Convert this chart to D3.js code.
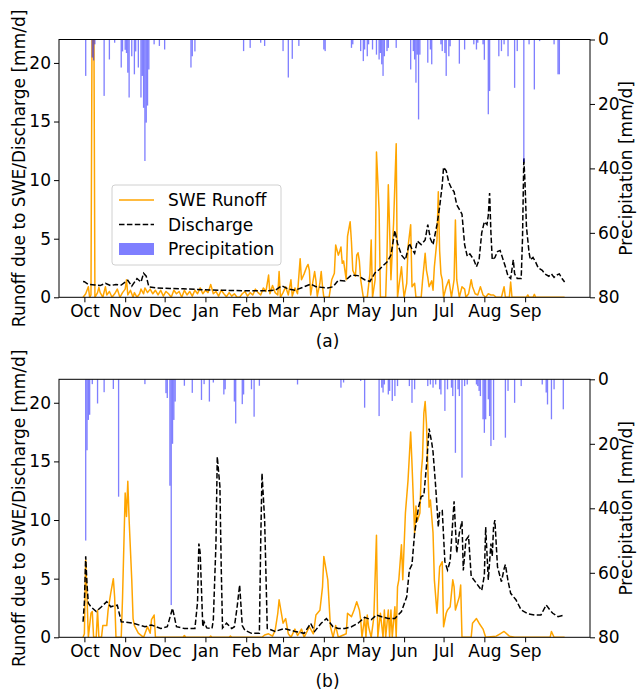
<!DOCTYPE html>
<html>
<head>
<meta charset="utf-8">
<script src="https://cdn.jsdelivr.net/npm/d3@7"></script>
<style>
  body { margin: 0; background: #fff; }
  text { font-family: "DejaVu Sans", sans-serif; }
</style>
</head>
<body>
<div id="chart-area"></div>
<script>
// x is the day of the water year, 0 = 1 Oct
var monthStarts = [0, 31, 61, 92, 123, 151, 182, 212, 243, 273, 304, 335];
var monthNames = ["Oct", "Nov", "Dec", "Jan", "Feb", "Mar", "Apr", "May", "Jun", "Jul", "Aug", "Sep"];
var runoffTicks = [0, 5, 10, 15, 20];
var precipTicks = [0, 20, 40, 60, 80];

// panel (a) : [day, mm/d]
var sweA = [[-1,0],[1,0.3],[3,0.9],[4,0],[5,0.2],[6,28],[7,30],[8,0],[10,0.4],[11,0.85],[12,0.4],[13,0.2],[14,0],[16,0.9],[17,0.2],[19,0.5],[21,0],[23,0.3],[25,0.7],[27,0],[29,0.4],[31,0.7],[32,1.5],[33,0.2],[35,0.6],[37,0],[38,0.4],[40,0],[42,0.3],[43,0.7],[45,0.3],[46,0.8],[48,0.4],[50,0.7],[52,0.3],[54,0.6],[56,0.2],[58,0.6],[60,0.1],[62,0.5],[64,0.3],[66,0],[68,0.6],[70,0.3],[72,0.5],[74,0],[76,0.6],[78,0.2],[80,0.5],[82,0.1],[84,0.6],[86,0.3],[88,0.8],[90,0.3],[92,0.6],[94,0.4],[96,1.1],[98,0.3],[100,0.5],[102,0.1],[104,0.6],[106,0.3],[108,0.05],[110,0.4],[112,0.1],[114,0.3],[116,0],[118,0],[120,0.3],[122,0.5],[124,0.1],[126,0.4],[128,0.2],[130,0.7],[132,0.4],[134,0.2],[136,0.8],[138,0.5],[140,1.9],[141,0.3],[143,1.0],[145,0.4],[147,0.2],[148,2.2],[149,0],[151,0.4],[153,0.9],[155,0.2],[157,1.5],[158,0.1],[160,0.8],[162,0.3],[164,3.3],[165,1.5],[167,2.0],[169,2.6],[170,2.8],[171,2.3],[172,0.2],[173,0.9],[175,2.2],[176,1.4],[177,0.1],[179,1.2],[180,2.2],[181,0.9],[182,0],[186,0],[188,1.5],[190,2.05],[191,4.46],[193,3.6],[194,3.9],[195,4.3],[196,2.9],[197,3.1],[199,1.5],[200,5.2],[202,6.45],[203,4.7],[204,2.3],[206,1.8],[207,3.6],[208,3.8],[209,3.1],[210,1.5],[212,0],[215,0],[217,2.0],[218,4.9],[219,0],[221,1.5],[222,12.4],[223,10],[224,7.4],[225,0],[229,0],[230,3.6],[231,9.6],[232,5.8],[233,1.5],[235,6.3],[237,13.1],[238,0],[239,0.9],[241,2.6],[242,1.2],[243,0],[245,1.2],[246,4.3],[248,6.2],[249,0.9],[251,1.2],[252,0],[256,0],[257,1.4],[259,3.75],[260,2.3],[261,1.7],[262,0.9],[264,1.4],[265,0.6],[266,2.6],[268,4.9],[269,9.0],[270,4.0],[271,2.0],[272,1.5],[273,0],[275,0.9],[277,1.5],[279,0],[281,1.5],[282,6.6],[283,1.5],[285,0],[287,0.9],[289,0.7],[290,0],[292,0.3],[294,1.5],[295,0.9],[297,0.3],[299,0.2],[301,0.9],[303,0.2],[305,0],[307,0.3],[309,0.2],[311,0.2],[313,0],[317,0],[319,0.9],[320,0],[323,0],[324,1.3],[325,0],[336,0],[337,0.2],[338,0],[341,0],[342,0.25],[343,0],[365,0]];

var dischargeA = [[-1,1.35],[0,1.33],[3,1.1],[8,1.05],[12,1.0],[16,1.2],[20,1.0],[24,1.1],[28,1.05],[33,1.45],[36,0.95],[40,1.6],[43,1.3],[45,2.05],[47,1.8],[49,0.9],[55,0.8],[65,0.75],[75,0.72],[85,0.68],[95,0.62],[105,0.6],[115,0.58],[122,0.56],[130,0.55],[138,0.55],[145,0.6],[150,0.98],[155,0.7],[160,0.6],[166,0.85],[172,1.13],[176,0.9],[180,0.85],[185,0.8],[189,0.9],[193,1.45],[198,1.4],[203,1.9],[208,1.85],[213,1.5],[217,1.35],[221,2.1],[224,2.35],[227,2.7],[230,3.0],[233,3.6],[236,5.7],[238,4.6],[241,3.6],[244,3.2],[247,4.6],[249,4.1],[251,3.75],[253,4.8],[256,4.5],[259,4.9],[261,6.2],[263,5.0],[265,4.5],[268,6.2],[270,7.7],[272,9.6],[273,11.1],[275,10.8],[277,9.8],[279,9.3],[281,9.0],[283,7.9],[285,7.5],[287,7.1],[289,4.5],[291,3.5],[293,3.7],[296,3.2],[298,2.6],[300,3.2],[302,5.5],[304,6.45],[306,6.2],[307,7.0],[308,8.9],[309,5.5],[310,3.2],[312,3.4],[314,3.9],[316,4.0],[318,3.3],[320,2.6],[322,1.8],[324,1.6],[326,3.2],[327,2.0],[329,1.6],[332,1.6],[333,5],[334,11.9],[335,9.5],[336,6],[338,3.8],[339,3.2],[341,3.4],[343,3.0],[345,2.5],[348,2.3],[350,2.0],[353,1.8],[355,2.0],[357,1.7],[359,1.9],[361,2.0],[363,1.6],[365,1.3]];

var precipA = [[1,11.3],[6,5.6],[7,6.5],[8,1.5],[15,17.5],[19,6.2],[23,1.0],[28,8.7],[29,3.7],[31,3.2],[32,4.2],[33,10.3],[34,18],[36,5.2],[38,10.8],[39,3.7],[41,8.7],[43,18],[44,11.3],[45,21.2],[46,37.7],[47,25.8],[48,20.5],[49,9.3],[53,1.5],[57,2.0],[61,3.1],[81,8.7],[82,5.2],[84,3.7],[121,3.6],[126,2.6],[134,1.0],[137,2.0],[151,3.6],[155,11.8],[158,6.0],[163,2.0],[182,3.1],[183,3.6],[203,2.6],[204,1.5],[210,3.6],[212,6.7],[213,3.1],[215,5.2],[216,1.5],[219,3.1],[222,4.7],[224,6.2],[225,4.2],[226,7.7],[227,11.3],[228,5.2],[230,3.6],[231,2.6],[237,2.6],[248,9.3],[250,3.6],[251,6.2],[252,13.4],[253,4.7],[254,24.8],[255,4.7],[261,7.2],[263,3.1],[264,7.7],[271,1.5],[272,3.6],[274,4.2],[275,11.3],[277,5.2],[278,2.1],[285,7.5],[289,3.1],[296,1.5],[298,3.1],[299,1.0],[303,1.5],[304,6.3],[307,23.2],[308,16],[315,5.2],[317,3.6],[319,1.5],[322,5.2],[327,15],[329,3.6],[334,38],[338,1.5],[342,15.5],[346,0.5],[357,1.5],[360,10.8],[361,10.8]];

// panel (b)
var sweB = [[-1,0],[0,0.3],[1,6.6],[2,3.4],[3,0],[5,2.05],[6,2.2],[7,0],[9,0],[10,2.3],[11,0],[13,0],[14,1.0],[17,1.0],[18,2.3],[20,3.75],[22,5.0],[23,3.4],[24,0],[28,0],[29,3.4],[31,12.3],[32,10.3],[33,13.3],[34,10.0],[36,4.9],[37,1.6],[38,1.0],[41,0.35],[45,0],[48,0.9],[50,0.35],[51,1.5],[53,1.9],[54,0],[75,0],[76,0.15],[77,0],[95,0],[96,0.1],[97,0],[110,0],[111,0.1],[112,0],[135,0],[137,0.2],[140,0.3],[143,0.1],[145,0.6],[147,2.05],[148,3.2],[151,1.2],[153,1.6],[155,0.3],[157,0],[160,0.7],[162,0.15],[165,0.7],[167,0],[171,0.9],[174,0.3],[176,1.9],[179,2.3],[181,4.3],[182,6.9],[185,4.9],[187,0.9],[189,0],[191,1.0],[193,0],[199,0.3],[200,2.05],[203,1.76],[205,2.33],[207,3.04],[209,2.33],[210,1.5],[211,0],[213,1.7],[214,0],[215,1.9],[216,0.9],[218,0],[220,1.7],[222,8.7],[223,0],[225,2.05],[227,0],[228,2.33],[229,0],[231,2.33],[232,0],[233,2.33],[234,0],[236,2.6],[237,0],[238,4.3],[239,4.9],[241,7.9],[242,4.9],[244,10.6],[246,13.4],[248,17.5],[249,14.8],[251,8.9],[252,11.2],[253,9.9],[255,10.6],[256,14.0],[257,15.3],[258,19.1],[259,20.1],[260,18.2],[262,11.1],[263,11.7],[265,8.9],[266,4.9],[268,2.05],[270,6.0],[272,6.45],[273,0.9],[275,2.05],[276,2.33],[278,2.6],[280,4.9],[281,4.3],[282,2.33],[285,3.46],[286,4.46],[287,0],[294,0],[295,1.2],[298,1.6],[300,1.2],[303,0.7],[305,0],[313,0.1],[316,0.3],[319,0.5],[323,0.1],[327,0],[354,0],[355,0.5],[357,0],[365,0]];

var dischargeB = [[-1,1.33],[0,3.0],[1,6.9],[2,4.5],[3,2.9],[5,2.6],[9,2.2],[13,2.6],[17,3.04],[20,2.6],[25,2.75],[28,1.33],[37,1.2],[46,0.9],[51,1.05],[58,0.75],[63,0.9],[67,2.47],[70,0.9],[76,0.75],[84,0.75],[86,3.0],[87,8.0],[88,7.2],[90,0.9],[91,1.3],[93,0.8],[97,0.75],[98,1.5],[100,8.0],[101,15.4],[103,12.85],[104,6.0],[105,0.8],[108,1.2],[112,0.75],[114,0.9],[116,2.5],[118,4.46],[120,1.0],[122,0.6],[127,0.34],[133,0.34],[134,8.0],[135,14.0],[137,10.0],[139,0.75],[145,0.5],[152,0.75],[160,0.5],[167,0.34],[172,1.19],[175,0.5],[180,1.2],[184,1.6],[189,0.9],[193,0.75],[198,0.75],[203,0.9],[208,1.2],[213,1.7],[218,1.5],[222,1.9],[226,1.75],[231,1.6],[236,1.6],[241,2.2],[245,3.46],[247,5.74],[249,6.2],[251,8.9],[254,11.1],[256,12.0],[258,12.1],[260,14.6],[262,17.8],[264,16.6],[265,15.8],[267,12.85],[269,9.4],[270,10.7],[272,10.8],[274,6.45],[276,5.74],[278,6.5],[281,11.6],[283,7.2],[285,8.9],[287,9.9],[288,5.7],[290,8.3],[292,8.6],[294,5.2],[298,4.6],[302,4.0],[304,5.3],[305,9.4],[307,4.9],[309,8.0],[310,6.9],[311,9.4],[312,10.0],[314,6.0],[317,4.74],[319,5.85],[320,6.2],[322,4.8],[324,3.75],[328,3.2],[332,2.33],[337,2.0],[342,1.9],[347,1.9],[351,2.76],[354,2.3],[356,2.05],[360,1.76],[365,1.9]];

var precipB = [[1,50],[2,22],[3,12.6],[4,11],[6,1.5],[10,7.5],[15,4.0],[22,3.0],[26,36.4],[46,1.5],[62,4.3],[63,5.8],[65,33],[66,70],[67,20],[68,12.6],[69,6.9],[76,2.0],[82,4.2],[89,6.4],[91,1.5],[95,6.9],[98,1.0],[106,4.7],[107,3.1],[114,6.9],[115,13.7],[120,7.7],[121,4.7],[127,3.1],[129,11.6],[133,2.0],[162,1.6],[195,2.6],[197,1.0],[210,0.5],[213,8.8],[224,11.4],[226,2.6],[227,4.1],[228,1.6],[231,4.7],[232,3.6],[234,6.7],[236,5.2],[238,2.1],[247,2.1],[249,7.3],[251,3.1],[261,2.1],[263,1.6],[265,2.6],[267,1.6],[270,3.1],[271,4.7],[274,9.8],[276,3.1],[279,2.6],[280,5.2],[282,22.8],[284,3.1],[285,5.2],[287,30.5],[289,2.1],[291,1.6],[298,1.6],[299,2.1],[300,3.6],[301,5.2],[303,12.4],[304,16.6],[305,12.4],[307,6.2],[308,11.4],[309,20.7],[311,18.8],[320,18.1],[322,3.6],[327,7.3],[332,2.1],[348,1.6],[351,4.1],[352,7.8],[355,12.4],[357,3.1],[364,9.3]];

var width = 637, height = 694;
var left = 59, right = 590;

var svg = d3.select("#chart-area").append("svg")
	.attr("width", width)
	.attr("height", height);

var x = d3.scaleLinear()
	.domain([-19.3, 384.3])
	.range([left, right]);

var drawPanel = function(top, bottom, swe, discharge, precip, tag, id, withLegend) {
	var y = d3.scaleLinear().domain([0, 22]).range([bottom, top]);
	var yp = d3.scaleLinear().domain([0, 80]).range([top, bottom]);

	var g = svg.append("g");

	g.append("clipPath")
		.attr("id", "clip" + id)
		.append("rect")
		.attr("x", left).attr("y", top)
		.attr("width", right - left).attr("height", bottom - top);

	var line = d3.line()
		.x(function(d) { return x(d[0]); })
		.y(function(d) { return y(d[1]); });

	var plot = g.append("g").attr("clip-path", "url(#clip" + id + ")");

	plot.append("path")
		.datum(swe)
		.attr("d", line)
		.attr("fill", "none")
		.attr("stroke", "orange")
		.attr("stroke-width", 1.5)
		.attr("stroke-linejoin", "round");

	plot.append("path")
		.datum(discharge)
		.attr("d", line)
		.attr("fill", "none")
		.attr("stroke", "black")
		.attr("stroke-width", 1.5)
		.attr("stroke-dasharray", "5.5,2.4");

	// precipitation hangs from the top (inverted right axis)
	var bw = x(1) - x(0);
	plot.selectAll("rect.precip")
		.data(precip)
		.enter()
		.append("rect")
		.attr("class", "precip")
		.attr("x", function(d) { return x(d[0]) - bw / 2; })
		.attr("y", yp(0))
		.attr("width", bw)
		.attr("height", function(d) { return yp(d[1]) - yp(0); })
		.attr("fill", "blue")
		.attr("fill-opacity", 0.5);

	// axes
	var xAxis = d3.axisBottom(x)
		.tickValues(monthStarts)
		.tickFormat(function(d, i) { return monthNames[i]; })
		.tickSize(5)
		.tickPadding(3);
	g.append("g")
		.attr("transform", "translate(0," + bottom + ")")
		.call(xAxis);

	g.append("g")
		.attr("transform", "translate(" + left + ",0)")
		.call(d3.axisLeft(y).tickValues(runoffTicks).tickSize(5).tickPadding(3));

	g.append("g")
		.attr("transform", "translate(" + right + ",0)")
		.call(d3.axisRight(yp).tickValues(precipTicks).tickSize(5).tickPadding(3));

	g.selectAll(".domain").remove();
	g.selectAll(".tick text")
		.attr("font-family", "DejaVu Sans")
		.attr("font-size", 17)
		.attr("fill", "black");
	g.selectAll(".tick line").attr("stroke", "black");

	g.append("rect")
		.attr("x", left).attr("y", top)
		.attr("width", right - left).attr("height", bottom - top)
		.attr("fill", "none")
		.attr("stroke", "black")
		.attr("stroke-width", 1);

	var mid = (top + bottom) / 2;
	g.append("text")
		.attr("transform", "translate(25," + mid + ") rotate(-90)")
		.attr("text-anchor", "middle")
		.attr("font-size", 17)
		.text("Runoff due to SWE/Discharge [mm/d]");

	g.append("text")
		.attr("transform", "translate(632," + mid + ") rotate(-90)")
		.attr("text-anchor", "middle")
		.attr("font-size", 17)
		.text("Precipitation [mm/d]");

	g.append("text")
		.attr("x", (left + right) / 2 + 3)
		.attr("y", bottom + 50)
		.attr("text-anchor", "middle")
		.attr("font-size", 17)
		.text(tag);

	if (withLegend) {
		var lg = g.append("g");
		lg.append("rect")
			.attr("x", 112).attr("y", 185)
			.attr("width", 169).attr("height", 80)
			.attr("rx", 3)
			.attr("fill", "white").attr("fill-opacity", 0.8)
			.attr("stroke", "#d0d0d0");
		var rows = [200, 224.5, 249];
		lg.append("line")
			.attr("x1", 119).attr("x2", 154).attr("y1", rows[0]).attr("y2", rows[0])
			.attr("stroke", "orange").attr("stroke-width", 1.5);
		lg.append("line")
			.attr("x1", 119).attr("x2", 154).attr("y1", rows[1]).attr("y2", rows[1])
			.attr("stroke", "black").attr("stroke-width", 1.5)
			.attr("stroke-dasharray", "5.5,2.4");
		lg.append("rect")
			.attr("x", 119).attr("y", rows[2] - 6)
			.attr("width", 35).attr("height", 12)
			.attr("fill", "blue").attr("fill-opacity", 0.5);
		var labels = ["SWE Runoff", "Discharge", "Precipitation"];
		lg.selectAll("text.leg")
			.data(labels)
			.enter()
			.append("text")
			.attr("class", "leg")
			.attr("x", 168)
			.attr("y", function(d, i) { return rows[i]; })
			.attr("dy", "0.36em")
			.attr("font-size", 17)
			.text(function(d) { return d; });
	}
};

drawPanel(39.5, 297.3, sweA, dischargeA, precipA, "(a)", "a", true);
drawPanel(379.3, 637.3, sweB, dischargeB, precipB, "(b)", "b", false);
</script>
</body>
</html>
